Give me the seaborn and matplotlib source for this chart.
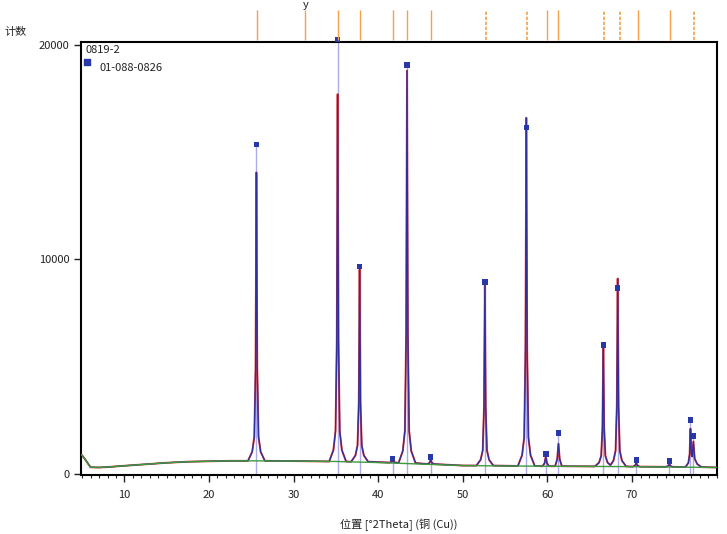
import numpy as np
import pandas as pd
import matplotlib
matplotlib.use("Agg")
import matplotlib.pyplot as plt
from matplotlib.ticker import MultipleLocator
import seaborn as sns

trace_x = [4.9, 5.3, 6.0, 7.0, 8.0, 10.0, 12.5, 15.0, 17.5, 20.0, 22.5,
           24.6, 25.1, 25.35, 25.5, 25.6, 25.7, 25.85, 26.1, 26.6,
           30.0,
           34.2, 34.7, 34.95, 35.1, 35.2, 35.3, 35.45, 35.7, 36.2,
           36.8, 37.3, 37.55, 37.7, 37.8, 37.9, 38.05, 38.3, 38.8,
           41.3, 41.55, 41.7, 41.85, 42.1,
           42.4, 42.9, 43.15, 43.3, 43.4, 43.5, 43.65, 43.9, 44.4,
           45.8, 46.05, 46.2, 46.35, 46.6,
           50.0,
           51.6, 52.1, 52.35, 52.5, 52.6, 52.7, 52.85, 53.1, 53.6,
           56.5, 57.0, 57.25, 57.4, 57.5, 57.6, 57.75, 58.0, 58.5,
           59.4, 59.65, 59.8, 59.95, 60.2,
           60.9, 61.15, 61.3, 61.45, 61.7,
           65.6, 66.1, 66.35, 66.5, 66.6, 66.7, 66.85, 67.1, 67.45,
           67.8, 68.05, 68.2, 68.3, 68.4, 68.55, 68.8, 69.3,
           70.1, 70.35, 70.5, 70.65, 70.9,
           74.0, 74.25, 74.4, 74.55, 74.8,
           76.3, 76.65, 76.8, 76.9, 77.0, 77.1, 77.25, 77.4, 77.7, 78.2,
           80.0]
trace_y = [900, 700, 300, 290, 310, 370, 440, 510, 560, 580, 600,
           600, 1020, 1720, 4920, 14050, 4920, 1720, 1020, 600,
           590,
           570, 1100, 1990, 6200, 17700, 6200, 1990, 1100, 570,
           560, 850, 1320, 3340, 9530, 3340, 1320, 850, 560,
           520, 545, 600, 545, 520,
           500, 1060, 2000, 6580, 18800, 6580, 2000, 1060, 500,
           450, 500, 650, 500, 450,
           380,
           380, 650, 1090, 3090, 8840, 3090, 1090, 650, 380,
           360, 860, 1690, 5810, 16600, 5810, 1690, 860, 360,
           350, 480, 800, 480, 350,
           350, 670, 1400, 670, 350,
           340, 520, 830, 2140, 6100, 2140, 830, 520, 400,
           610, 1070, 3190, 9100, 3190, 1070, 610, 340,
           330, 380, 500, 380, 330,
           320, 360, 450, 360, 320,
           310, 500, 900, 2100, 1000, 800, 1500, 700, 450, 310,
           290]

# background line
bg_x = [4.9, 5.3, 6.0, 7.0, 8.0, 10.0, 12.5, 15.0, 17.5, 20.0, 22.5, 25.0,
        30.0, 35.0, 40.0, 45.0, 50.0, 55.0, 60.0, 65.0, 70.0, 75.0, 80.0]
bg_y = [900, 700, 300, 290, 310, 370, 440, 510, 560, 580, 600, 600,
        590, 570, 520, 450, 380, 360, 350, 340, 330, 310, 290]

# reference pattern 01-088-0826
ref_pos = [25.6, 35.2, 37.8, 41.7, 43.4, 46.2, 52.6, 57.5, 59.8, 61.3,
           66.6, 68.3, 70.5, 74.4, 76.9, 77.25]
ref_int = [15350, 20250, 9670, 700, 19070, 790, 8930, 16140, 930, 1900,
           6000, 8650, 650, 600, 2510, 1770]

# peak list strip above the plot
top_solid = [25.7, 31.4, 35.25, 37.8, 41.8, 43.45, 46.2, 59.9, 61.3, 70.7, 74.5]
top_dashed = [52.75, 57.6, 66.7, 68.6, 77.3]

sns.set_style("ticks")
plt.rcParams['font.family'] = ['Noto Sans CJK SC', 'DejaVu Sans']

fig = plt.figure(figsize=(7.27, 5.34), dpi=100)
ax = fig.add_axes([0.1118, 0.1105, 0.874, 0.8114])
top = fig.add_axes([0.1118, 0.9219, 0.874, 0.0594])

df = pd.DataFrame({'two_theta': trace_x, 'counts': trace_y})
bg = pd.DataFrame({'two_theta': bg_x, 'counts': bg_y})

ax.vlines(ref_pos, 0, ref_int, color='#ababe8', lw=1.0, zorder=1, clip_on=False)
sns.lineplot(data=df, x='two_theta', y='counts', ax=ax, color='#d83a3a', lw=1.4,
             sort=False, estimator=None, zorder=2)
sns.lineplot(data=df, x='two_theta', y='counts', ax=ax, color='#2e2e9e', lw=0.9,
             sort=False, estimator=None, zorder=3)
sns.lineplot(data=bg, x='two_theta', y='counts', ax=ax, color='#3c9a3c', lw=1.0,
             sort=False, estimator=None, zorder=4)
sns.scatterplot(x=ref_pos, y=ref_int, ax=ax, marker='s', s=16, color='#2838a8',
                edgecolor='none', zorder=5, clip_on=False)

ax.set_xlim(4.9, 80)
ax.set_ylim(-60, 20150)
ax.set_xticks([10, 20, 30, 40, 50, 60, 70])
ax.xaxis.set_minor_locator(MultipleLocator(1))
ax.set_yticks([0, 10000, 20000])
ax.tick_params(axis='both', which='major', direction='out', length=5, width=1,
               labelsize=8, colors='#222222')
ax.tick_params(axis='x', which='major', pad=6)
ax.tick_params(axis='x', which='minor', direction='out', length=2.5, width=0.8)
for s in ax.spines.values():
    s.set_linewidth(1.5)
    s.set_color('black')
ax.set_xlabel('位置 [°2Theta] (铜 (Cu))', fontsize=8, color='#222222', labelpad=13)
ax.set_ylabel('')
fig.text(0.006, 1 - 32 / 534, '计数', fontsize=8, va='center', color='#222222')

# legend-ish labels
ax.text(0.006, 0.981, '0819-2', transform=ax.transAxes, fontsize=8, va='center', color='#222222')
ax.scatter([0.009], [0.953], transform=ax.transAxes, marker='s', s=14, color='#2838a8')
ax.text(0.028, 0.939, '01-088-0826', transform=ax.transAxes, fontsize=8, va='center', color='#222222')

top.vlines(top_solid, 0.05, 1, color='#f2a24a', lw=1.0)
top.vlines(top_dashed, 0.05, 1, color='#f2a24a', lw=1.2, linestyles=(0, (2, 1)))
top.text(31.4, 1.0, 'y', ha='center', va='bottom', fontsize=8, color='#222222')
top.set_xlim(4.9, 80)
top.set_ylim(0, 1)
top.axis('off')

fig.savefig('out.png', dpi=100)
